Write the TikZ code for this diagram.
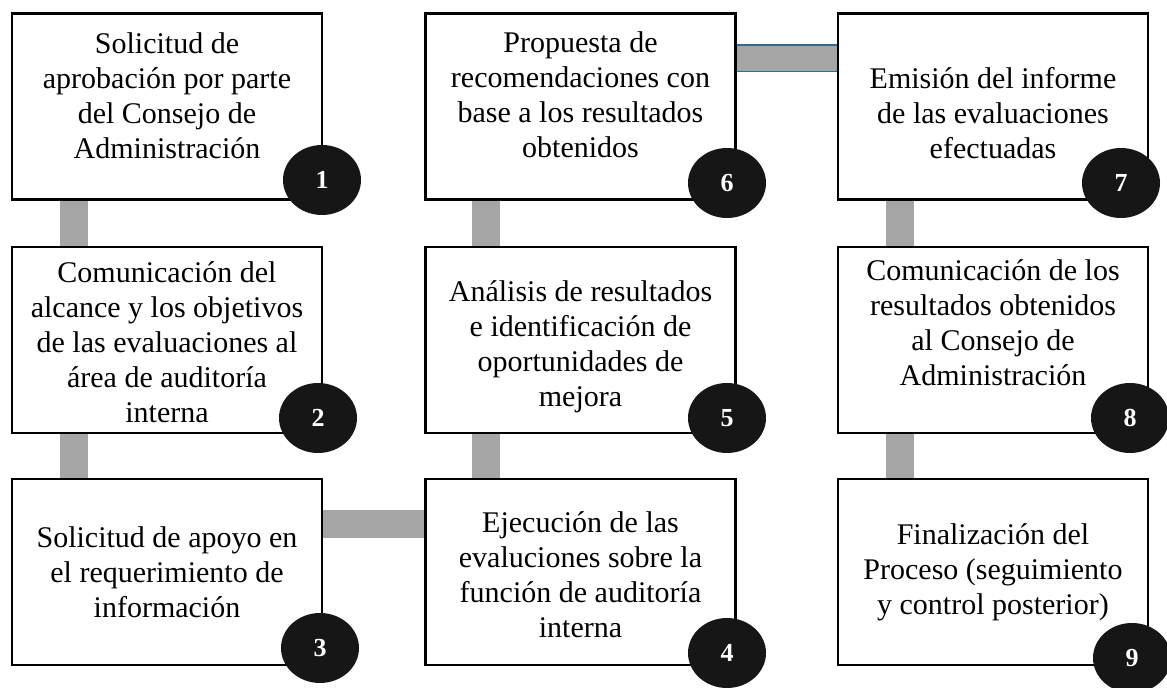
\documentclass[tikz,border=0pt]{standalone}
\usepackage{fontspec}
\setmainfont{Liberation Serif}
\usetikzlibrary{shapes.geometric}
\definecolor{barra}{HTML}{A5A5A5}
\definecolor{azul}{HTML}{2E6D8E}
\definecolor{negro}{HTML}{161616}

\begin{document}
\begin{tikzpicture}[x=0.5pt, y=-0.5pt,
  paso/.style={draw, line width=1.3pt, minimum width=155pt, minimum height=93pt, inner sep=0pt},
  texto/.style={align=center, inner sep=0pt, font=\fontsize{15}{17.5}\selectfont},
  num/.style={ellipse, fill=negro, text=white, minimum width=39pt, minimum height=35pt,
    inner sep=0pt, font=\fontsize{13}{14}\selectfont\bfseries},
  union/.style={line width=14pt, draw=barra}]
\useasboundingbox (0,0) rectangle (1167,688);

% cajas
\node[paso] at (167,106.5) (b1) {};
\node[paso] at (167,340) (b2) {};
\node[paso] at (167,572) (b3) {};
\node[paso] at (580.5,572) (b4) {};
\node[paso] at (580.5,340) (b5) {};
\node[paso] at (580.5,106.5) (b6) {};
\node[paso] at (993,106.5) (b7) {};
\node[paso] at (993,340) (b8) {};
\node[paso] at (993,572) (b9) {};

\node[texto] at (167,96) (t1) {Solicitud de\\aprobación por parte\\del Consejo de\\Administración};
\node[texto] at (167,342) (t2) {Comunicación del\\alcance y los objetivos\\de las evaluaciones al\\área de auditoría\\interna};
\node[texto] at (167,572) (t3) {Solicitud de apoyo en\\el requerimiento de\\información};
\node[texto] at (580.5,575) (t4) {Ejecución de las\\evaluciones sobre la\\función de auditoría\\interna};
\node[texto] at (580.5,347) (t5) {Análisis de resultados\\e identificación de\\oportunidades de\\mejora};
\node[texto] at (580.5,95) (t6) {Propuesta de\\recomendaciones con\\base a los resultados\\obtenidos};
\node[texto] at (993,113) (t7) {Emisión del informe\\de las evaluaciones\\efectuadas};
\node[texto] at (993,323) (t8) {Comunicación de los\\resultados obtenidos\\al Consejo de\\Administración};
\node[texto] at (993,572) (t9) {Finalización del\\Proceso (seguimiento\\y control posterior)};

% uniones
\draw[union] ([xshift=31.5pt]b1.south west) -- ([xshift=31.5pt]b2.north west);
\draw[union] ([xshift=31.5pt]b2.south west) -- ([xshift=31.5pt]b3.north west);
\draw[union] ([yshift=-23.25pt]b3.north east) -- ([yshift=-23.25pt]b4.north west);
\draw[union] ([xshift=31pt]b4.north west) -- ([xshift=31pt]b5.south west);
\draw[union] ([xshift=31pt]b5.north west) -- ([xshift=31pt]b6.south west);
%6 -> 7 con borde azul
\draw[union, draw=azul] ([yshift=-23pt]b6.north east) -- ([yshift=-23pt]b7.north west);
\draw[union, line width=12.6pt] ([yshift=-23pt]b6.north east) -- ([yshift=-23pt]b7.north west);
\draw[union] ([xshift=31.5pt]b7.south west) -- ([xshift=31.5pt]b8.north west);
\draw[union] ([xshift=31.5pt]b8.south west) -- ([xshift=31.5pt]b9.north west);

% numeros
\node[num] at (322,180) (c1) {1};
\node[num] at (318,418) (c2) {2};
\node[num] at (320,648) (c3) {3};
\node[num] at (727,653) (c4) {4};
\node[num] at (727,418) (c5) {5};
\node[num] at (727,183) (c6) {6};
\node[num] at (1121,183) (c7) {7};
\node[num] at (1130,418) (c8) {8};
\node[num] at (1132,658) (c9) {9};
\end{tikzpicture}
\end{document}
